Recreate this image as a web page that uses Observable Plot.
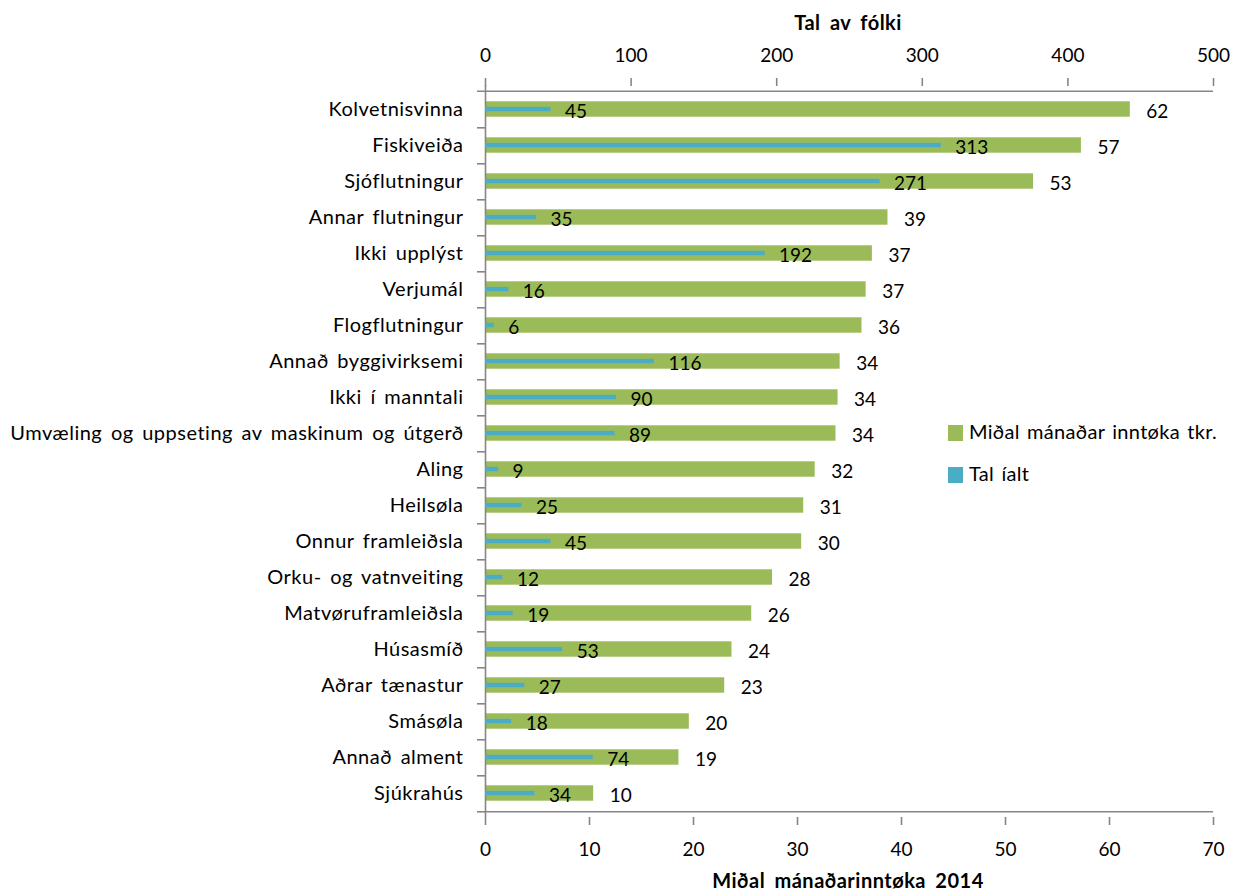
<!DOCTYPE html>
<html>
<head>
<meta charset="utf-8">
<script src="https://cdn.jsdelivr.net/npm/d3@7"></script>
<script src="https://cdn.jsdelivr.net/npm/@observablehq/plot@0.6"></script>
<style>
  body { margin: 0; background: #fff; }
  #wrap { position: relative; width: 1234px; height: 892px; overflow: hidden; font-family: Lato, "Open Sans", sans-serif; color: #000; }
  #wrap svg { position: absolute; left: 0; top: 0; }
  #wrap g[aria-label="y-axis tick label"] text { letter-spacing: 0.5px; word-spacing: 3px; }
  .atitle { position: absolute; font-weight: bold; font-size: 20px; letter-spacing: 0.5px; word-spacing: 4px; transform: translate(-50%, -50%); white-space: nowrap; }
  .leg { position: absolute; font-size: 20px; letter-spacing: 0.3px; word-spacing: 2px; white-space: nowrap; line-height: 20px; }
  .sw { display: inline-block; width: 15px; height: 16px; margin-right: 6px; vertical-align: -2px; }
</style>
</head>
<body>
<div id="wrap"></div>
<script>
const categories = ["Kolvetnisvinna","Fiskiveiða","Sjóflutningur","Annar flutningur","Ikki upplýst","Verjumál","Flogflutningur","Annað byggivirksemi","Ikki í manntali","Umvæling og uppseting av maskinum og útgerð","Aling","Heilsøla","Onnur framleiðsla","Orku- og vatnveiting","Matvøruframleiðsla","Húsasmíð","Aðrar tænastur","Smásøla","Annað alment","Sjúkrahús"];
const income = [62.0,57.3,52.7,38.7,37.2,36.6,36.2,34.1,33.9,33.7,31.7,30.6,30.4,27.6,25.6,23.7,23.0,19.6,18.6,10.4];
const incomeLabels = [62,57,53,39,37,37,36,34,34,34,32,31,30,28,26,24,23,20,19,10];
const counts = [45,313,271,35,192,16,6,116,90,89,9,25,45,12,19,53,27,18,74,34];
const incomeTicks = [0,10,20,30,40,50,60,70];
const countTicks = [0,100,200,300,400,500];

const data = categories.map((name, i) => ({name, income: income[i], incomeLabel: incomeLabels[i], count: counts[i]}));

const W = 1234, H = 892, mL = 485, mR = 21, mT = 85, mB = 75;
const step = (H - mT - mB) / categories.length;
const gray = "#868686";
const green = "#9BBB59", blue = "#4BACC6";
const common = {
  width: W, height: H, marginLeft: mL, marginRight: mR, marginTop: mT, marginBottom: mB,
  style: {fontFamily: "Lato, 'Open Sans', sans-serif", fontSize: "19px", background: "transparent", overflow: "visible", color: "#000"}
};

const green_plot = Plot.plot({
  ...common,
  x: {domain: [0, 70], axis: null},
  y: {domain: categories, padding: 0, axis: null},
  marks: [
    Plot.barX(data, {x: "income", y: "name", fill: green, insetTop: 10.3, insetBottom: 10.3}),
    Plot.text(data, {x: "income", y: "name", text: "incomeLabel", textAnchor: "start", dx: 16, dy: 2, fontSize: 19, fill: "#000"}),
    Plot.ruleX([0], {stroke: gray, strokeWidth: 1.6}),
    Plot.ruleY(categories, {y: d => d, x1: -0.77, x2: 0, dy: step / 2, stroke: gray, strokeWidth: 1.6}),
    Plot.ruleY([categories[0]], {y: d => d, x1: -0.77, x2: 70, dy: -step / 2, stroke: gray, strokeWidth: 1.6}),
    Plot.ruleY([categories[categories.length - 1]], {y: d => d, x1: 0, x2: 70, dy: step / 2, stroke: gray, strokeWidth: 1.6}),
    Plot.axisX({anchor: "bottom", ticks: incomeTicks, tickSize: 8, tickPadding: 17, stroke: gray, strokeWidth: 1.6, label: null, fontSize: 19}),
    Plot.axisY({anchor: "left", tickSize: 0, tickPadding: 22, label: null, fontSize: 20})
  ]
});

const blue_plot = Plot.plot({
  ...common,
  x: {domain: [0, 500], axis: null},
  y: {domain: categories, padding: 0, axis: null},
  marks: [
    Plot.barX(data, {x: "count", y: "name", fill: blue, insetTop: 15.8, insetBottom: 15.8}),
    Plot.text(data, {x: "count", y: "name", text: "count", textAnchor: "start", dx: 14, dy: 2, fontSize: 19, fill: "#000"}),
    Plot.axisX({anchor: "top", ticks: countTicks, tickSize: 8, tickPadding: 16, stroke: gray, strokeWidth: 1.6, label: null, fontSize: 19})
  ]
});

const wrap = document.getElementById("wrap");
wrap.appendChild(green_plot);
wrap.appendChild(blue_plot);

function addDiv(cls, html, x, y) {
  const d = document.createElement("div");
  d.className = cls; d.innerHTML = html;
  d.style.left = x + "px"; d.style.top = y + "px";
  wrap.appendChild(d);
}
addDiv("atitle", "Tal av fólki", 848, 22);
addDiv("atitle", "Miðal mánaðarinntøka 2014", 848, 880);
addDiv("leg", `<span class="sw" style="background:${green}"></span>Miðal mánaðar inntøka tkr.`, 948, 421);
addDiv("leg", `<span class="sw" style="background:${blue}"></span>Tal íalt`, 948, 463);
</script>
</body>
</html>
